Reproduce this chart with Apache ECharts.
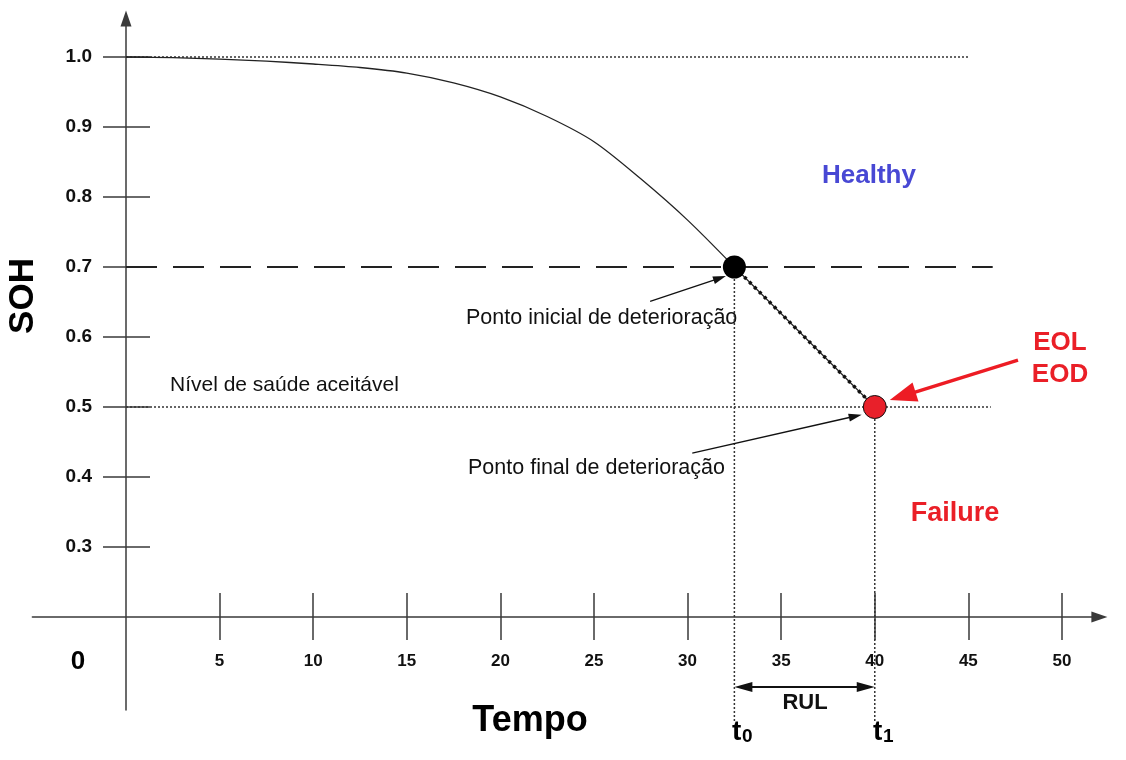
<!DOCTYPE html>
<html><head><meta charset="utf-8">
<script src="https://cdn.jsdelivr.net/npm/echarts@6/dist/echarts.min.js"></script>
<style>html,body{margin:0;padding:0;background:#fff}#c{width:1126px;height:760px}</style>
</head><body><div id="c"></div>
<script>
// ---- data ----
const xTicks = [5, 10, 15, 20, 25, 30, 35, 40, 45, 50];
const yTicks = [0.3, 0.4, 0.5, 0.6, 0.7, 0.8, 0.9, 1.0];
const sohTime  = [0, 2.5, 5, 7.5, 10, 12.5, 15, 17.5, 20, 22.5, 25, 27.5, 30, 32.5];
const sohValue = [1.000, 0.999, 0.997, 0.994, 0.990, 0.985, 0.977, 0.963, 0.943, 0.915, 0.879, 0.826, 0.767, 0.700];
const t0 = 32.5, t1 = 40;
const sohFull = 1.0, sohStart = 0.7, sohAccept = 0.5;
const fullLineEnd = 45, startLineEnd = 46.3, acceptLineEnd = 46.2, verticalBottom = 0.05, rulLevel = 0.1;
// annotation arrows [fromX, fromY, tipX, tipY]
const blackArrows = [[28.0, 0.651, 32.05, 0.687], [30.25, 0.434, 39.3, 0.489]];
const redArrow = [[47.65, 0.567, 40.8, 0.51]];
const rulArrow = [[t0, rulLevel, t1, rulLevel]];

const FONT = 'Liberation Sans, Arial, Helvetica, sans-serif';
const AX = '#3a3a3a';

function arrowRenderer(color, width, headLen, headW, both) {
  return function (params, api) {
    const a = api.coord([api.value(0), api.value(1)]);
    const b = api.coord([api.value(2), api.value(3)]);
    const dx = b[0] - a[0], dy = b[1] - a[1];
    const L = Math.hypot(dx, dy), ux = dx / L, uy = dy / L, nx = -uy, ny = ux;
    const head = (tip, sx, sy) => {
      const bx = tip[0] - sx * headLen, by = tip[1] - sy * headLen;
      return { type: 'polygon', shape: { points: [[tip[0], tip[1]], [bx + nx * headW / 2, by + ny * headW / 2], [bx - nx * headW / 2, by - ny * headW / 2]] }, style: { fill: color } };
    };
    const s = both ? [a[0] + ux * headLen * 0.8, a[1] + uy * headLen * 0.8] : a;
    const e = [b[0] - ux * headLen * 0.8, b[1] - uy * headLen * 0.8];
    const children = [{ type: 'line', shape: { x1: s[0], y1: s[1], x2: e[0], y2: e[1] }, style: { stroke: color, lineWidth: width } }, head(b, ux, uy)];
    if (both) children.push(head(a, -ux, -uy));
    return { type: 'group', children };
  };
}

const X_MIN = -5, X_MAX = 52, Y_MIN = 0.067, Y_MAX = 1.055;
const chart = echarts.init(document.getElementById('c'));
const lineS = (data, style, z) => ({ type: 'line', data, showSymbol: false, symbol: 'none', clip: false, silent: true, lineStyle: style, z: z || 2 });

chart.setOption({
  animation: false,
  backgroundColor: '#fff',
  grid: { left: 32.4, right: 26.6, top: 18.5, bottom: 49.9, containLabel: false, outerBoundsMode: 'none' },
  xAxis: [
    { type: 'value', min: X_MIN, max: X_MAX, position: 'bottom', offset: -93.1,
      axisLine: { show: true, onZero: false, symbol: ['none', 'triangle'], symbolSize: [11, 16], lineStyle: { color: AX, width: 1.5 } },
      axisTick: { show: false }, splitLine: { show: false },
      axisLabel: { customValues: xTicks, margin: 36, color: '#111', fontSize: 17, fontWeight: 'bold', fontFamily: FONT } },
    { type: 'value', min: X_MIN, max: X_MAX, position: 'bottom', offset: -70.1,
      axisLine: { show: false, onZero: false }, axisLabel: { show: false }, splitLine: { show: false },
      axisTick: { show: true, inside: true, length: 47, customValues: xTicks, lineStyle: { color: AX, width: 1.5 } } }
  ],
  yAxis: [
    { type: 'value', min: Y_MIN, max: Y_MAX, position: 'left', offset: -93.6,
      axisLine: { show: true, onZero: false, symbol: ['none', 'triangle'], symbolSize: [11, 16], lineStyle: { color: AX, width: 1.5 } },
      axisTick: { show: false }, splitLine: { show: false },
      axisLabel: { customValues: yTicks, margin: 34, color: '#111', fontSize: 19, fontWeight: 'bold', fontFamily: FONT, formatter: v => v.toFixed(1) } },
    { type: 'value', min: Y_MIN, max: Y_MAX, position: 'left', offset: -70.6,
      axisLine: { show: false, onZero: false }, axisLabel: { show: false }, splitLine: { show: false },
      axisTick: { show: true, inside: true, length: 47, customValues: yTicks, lineStyle: { color: AX, width: 1.5 } } }
  ],
  series: [
    lineS([[0, sohFull], [fullLineEnd, sohFull]], { color: '#333', width: 1.5, type: [2, 2] }),
    lineS([[0, sohStart], [startLineEnd, sohStart]], { color: '#222', width: 2, type: [31, 16] }),
    lineS([[0, sohAccept], [acceptLineEnd, sohAccept]], { color: '#333', width: 1.5, type: [2, 2] }),
    lineS([[t0, sohStart], [t0, verticalBottom]], { color: '#333', width: 1.5, type: [2, 2] }),
    lineS([[t1, sohAccept], [t1, verticalBottom]], { color: '#333', width: 1.5, type: [2, 2] }),
    Object.assign(lineS(sohTime.map((t, i) => [t, sohValue[i]]), { color: '#222', width: 1.3 }, 3), { smooth: 0.3 }),
    lineS([[t0, sohStart], [t1, sohAccept]], { color: '#222', width: 1.2 }, 3),
    lineS([[t0, sohStart], [t1, sohAccept]], { color: '#111', width: 3.5, type: [3, 4] }, 3),
    { type: 'scatter', data: [[t0, sohStart]], symbolSize: 23, itemStyle: { color: '#000', opacity: 1 }, z: 5, silent: true },
    { type: 'scatter', data: [[t1, sohAccept]], symbolSize: 23, itemStyle: { color: '#e8202a', borderColor: '#111', borderWidth: 1, opacity: 1 }, z: 5, silent: true },
    { type: 'custom', data: blackArrows, renderItem: arrowRenderer('#111', 1.3, 13, 8, false), z: 6, silent: true },
    { type: 'custom', data: redArrow, renderItem: arrowRenderer('#ed1c24', 3.5, 27, 20, false), z: 6, silent: true },
    { type: 'custom', data: rulArrow, renderItem: arrowRenderer('#111', 2, 18, 10, true), z: 6, silent: true }
  ],
  graphic: [
    { type: 'text', x: 78, y: 662, style: { text: '0', font: 'bold 26px ' + FONT, fill: '#000', align: 'center', verticalAlign: 'middle' } },
    { type: 'text', x: 530, y: 721, style: { text: 'Tempo', font: 'bold 36px ' + FONT, fill: '#000', align: 'center', verticalAlign: 'middle' } },
    { type: 'text', x: 23, y: 296, rotation: Math.PI / 2, style: { text: 'SOH', font: 'bold 35px ' + FONT, fill: '#000', align: 'center', verticalAlign: 'middle' } },
    { type: 'text', x: 869, y: 176, style: { text: 'Healthy', font: 'bold 26px ' + FONT, fill: '#4848d4', align: 'center', verticalAlign: 'middle' } },
    { type: 'text', x: 955, y: 514, style: { text: 'Failure', font: 'bold 27px ' + FONT, fill: '#ea1f27', align: 'center', verticalAlign: 'middle' } },
    { type: 'text', x: 1060, y: 343, style: { text: 'EOL', font: 'bold 26px ' + FONT, fill: '#ea1f27', align: 'center', verticalAlign: 'middle' } },
    { type: 'text', x: 1060, y: 375, style: { text: 'EOD', font: 'bold 26px ' + FONT, fill: '#ea1f27', align: 'center', verticalAlign: 'middle' } },
    { type: 'text', x: 170, y: 385, style: { text: 'Nível de saúde aceitável', font: '21px ' + FONT, fill: '#111', align: 'left', verticalAlign: 'middle' } },
    { type: 'text', x: 466, y: 318, style: { text: 'Ponto inicial de deterioração', font: '21.5px ' + FONT, fill: '#111', align: 'left', verticalAlign: 'middle' } },
    { type: 'text', x: 468, y: 468, style: { text: 'Ponto final de deterioração', font: '21.5px ' + FONT, fill: '#111', align: 'left', verticalAlign: 'middle' } },
    { type: 'text', x: 805, y: 703, style: { text: 'RUL', font: 'bold 22px ' + FONT, fill: '#111', align: 'center', verticalAlign: 'middle' } },
    { type: 'text', x: 732, y: 732, style: { text: 't', font: 'bold 28px ' + FONT, fill: '#000', align: 'left', verticalAlign: 'middle' } },
    { type: 'text', x: 742, y: 737, style: { text: '0', font: 'bold 19px ' + FONT, fill: '#000', align: 'left', verticalAlign: 'middle' } },
    { type: 'text', x: 873, y: 732, style: { text: 't', font: 'bold 28px ' + FONT, fill: '#000', align: 'left', verticalAlign: 'middle' } },
    { type: 'text', x: 883, y: 737, style: { text: '1', font: 'bold 19px ' + FONT, fill: '#000', align: 'left', verticalAlign: 'middle' } }
  ]
});
</script></body></html>
